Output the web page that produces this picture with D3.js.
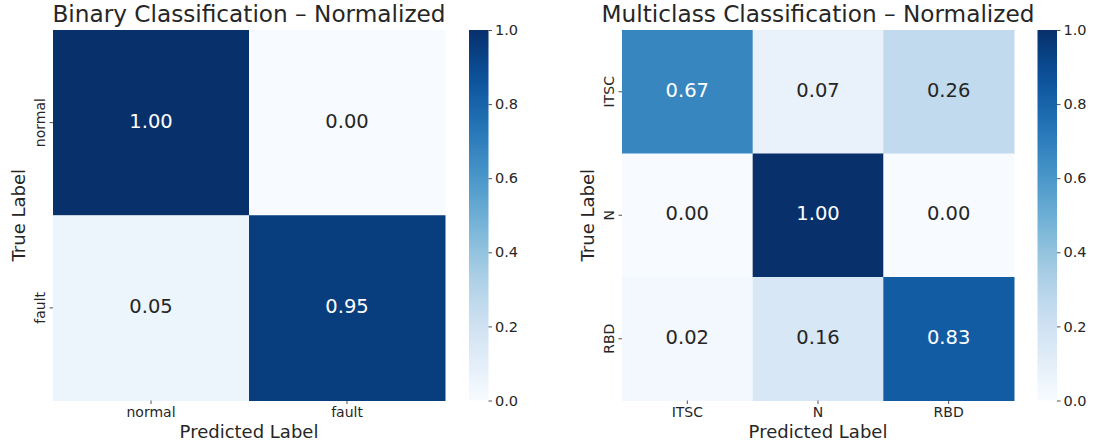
<!DOCTYPE html>
<html>
<head>
<meta charset="utf-8">
<script src="https://cdnjs.cloudflare.com/ajax/libs/d3/7.8.5/d3.min.js"></script>
<style>
  body { margin: 0; background: #fff; }
  text { font-family: "DejaVu Sans", sans-serif; }
</style>
</head>
<body>
<svg id="chart" width="1093" height="445"></svg>
<script>
// data
const binaryLabels = ["normal", "fault"];
const binaryValues = [
  [1.00, 0.00],
  [0.05, 0.95]
];
const multiLabels = ["ITSC", "N", "RBD"];
const multiValues = [
  [0.67, 0.07, 0.26],
  [0.00, 1.00, 0.00],
  [0.02, 0.16, 0.83]
];
const cbarTicks = [0, 0.2, 0.4, 0.6, 0.8, 1.0];

const svg = d3.select("#chart");
const color = d3.scaleSequential(d3.interpolateBlues).domain([0, 1]);
const textDark = "#262626";

function drawHeatmap(opts) {
  const { left, top, width, height, labels, values, title, cbarX } = opts;
  const g = svg.append("g");
  const x = d3.scaleBand().domain(labels).range([left, left + width]);
  const y = d3.scaleBand().domain(labels).range([top, top + height]);

  const cells = [];
  values.forEach((row, i) => row.forEach((v, j) => cells.push({ r: labels[i], c: labels[j], v })));

  g.selectAll("rect.cell").data(cells).join("rect")
    .attr("class", "cell")
    .attr("x", d => x(d.c))
    .attr("y", d => y(d.r))
    .attr("width", x.bandwidth() + 0.5)
    .attr("height", y.bandwidth() + 0.5)
    .attr("fill", d => color(d.v));

  g.selectAll("text.annot").data(cells).join("text")
    .attr("class", "annot")
    .attr("x", d => x(d.c) + x.bandwidth() / 2)
    .attr("y", d => y(d.r) + y.bandwidth() / 2)
    .attr("dy", "0.25em")
    .attr("text-anchor", "middle")
    .attr("font-size", 19.5)
    .attr("fill", d => d.v > 0.5 ? "#ffffff" : textDark)
    .text(d => d.v.toFixed(2));

  // axes
  const xAxis = d3.axisBottom(x).tickSize(3.5).tickPadding(3);
  const xg = g.append("g").attr("transform", `translate(0,${top + height})`).call(xAxis);
  xg.select(".domain").remove();
  xg.selectAll("line").attr("stroke", textDark).attr("stroke-width", 0.8);
  xg.selectAll("text").attr("font-size", 14).attr("fill", textDark)
    .style("font-family", "DejaVu Sans");

  const yg = g.append("g").attr("transform", `translate(${left},0)`);
  yg.selectAll("line").data(labels).join("line")
    .attr("x1", -3.5).attr("x2", 0)
    .attr("y1", d => y(d) + y.bandwidth() / 2)
    .attr("y2", d => y(d) + y.bandwidth() / 2)
    .attr("stroke", textDark).attr("stroke-width", 0.8);
  yg.selectAll("text").data(labels).join("text")
    .attr("transform", d => `translate(-8,${y(d) + y.bandwidth() / 2}) rotate(-90)`)
    .attr("text-anchor", "middle")
    .attr("font-size", 14)
    .attr("fill", textDark)
    .text(d => d);

  g.append("text")
    .attr("x", left + width / 2).attr("y", top + height + 37)
    .attr("text-anchor", "middle").attr("font-size", 18).attr("fill", textDark)
    .text("Predicted Label");
  g.append("text")
    .attr("transform", `translate(${left - 28},${top + height / 2}) rotate(-90)`)
    .attr("text-anchor", "middle").attr("font-size", 18).attr("fill", textDark)
    .text("True Label");

  g.append("text")
    .attr("x", left + width / 2).attr("y", top - 8)
    .attr("text-anchor", "middle").attr("font-size", 23.2).attr("fill", textDark)
    .text(title);

  // colorbar
  const cbW = 19.5;
  const cy = d3.scaleLinear().domain([0, 1]).range([top + height, top]);
  const gradId = "grad" + Math.round(left);
  const grad = svg.append("defs").append("linearGradient")
    .attr("id", gradId).attr("x1", 0).attr("y1", 1).attr("x2", 0).attr("y2", 0);
  d3.range(0, 1.0001, 0.05).forEach(t => {
    grad.append("stop").attr("offset", t).attr("stop-color", color(t));
  });
  g.append("rect")
    .attr("x", cbarX).attr("y", cy(1))
    .attr("width", cbW).attr("height", cy(0) - cy(1))
    .attr("fill", `url(#${gradId})`);
  const cbAxis = d3.axisRight(cy).tickValues(cbarTicks).tickFormat(d3.format(".1f"))
    .tickSize(3.5).tickPadding(3);
  const cg = g.append("g").attr("transform", `translate(${cbarX + cbW},0)`).call(cbAxis);
  cg.select(".domain").remove();
  cg.selectAll("line").attr("stroke", textDark).attr("stroke-width", 0.8);
  cg.selectAll("text").attr("font-size", 14.5).attr("fill", textDark)
    .style("font-family", "DejaVu Sans");
}

drawHeatmap({
  left: 53, top: 30, width: 392, height: 370.5,
  labels: binaryLabels, values: binaryValues,
  title: "Binary Classification \u2013 Normalized",
  cbarX: 469
});
drawHeatmap({
  left: 622, top: 30, width: 392, height: 370.5,
  labels: multiLabels, values: multiValues,
  title: "Multiclass Classification \u2013 Normalized",
  cbarX: 1037.5
});
</script>
</body>
</html>
